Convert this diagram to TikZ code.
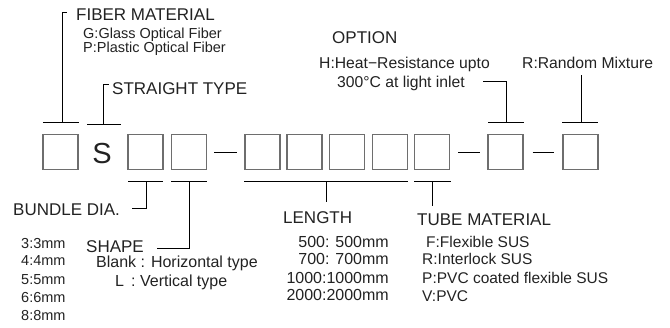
\documentclass[tikz,border=0pt]{standalone}
\usepackage{fontspec}
\setmainfont{Liberation Sans}
\usetikzlibrary{calc}
\definecolor{txt}{HTML}{222222}
\definecolor{boxc}{HTML}{6E6E6E}
\begin{document}
\begin{tikzpicture}[x=1pt,y=-1pt,
  box/.style={draw=boxc,line width=1.2pt,minimum width=35pt,minimum height=35pt,inner sep=0pt},
  brk/.style={draw=black,line width=0.9pt},
  lbl/.style={anchor=base west,inner sep=0pt,text=txt,font=\fontsize{17}{20}\selectfont},
  lst/.style={anchor=base west,inner sep=0pt,text=txt},
  lstr/.style={anchor=base east,inner sep=0pt,text=txt}]
\useasboundingbox (0,0) rectangle (670,327);
% boxes
\node[box] (b1) at (60.5,152) {};
\node[inner sep=0pt,text=txt,font=\fontsize{29}{30}\selectfont,anchor=base] (s) at (102,163) {S};
\node[box] (b2) at (145.5,152) {};
\node[box] (b3) at (189,152) {};
\node[box] (b4) at (262.5,152) {};
\node[box] (b5) at (304.5,152) {};
\node[box] (b6) at (347,152) {};
\node[box] (b7) at (390,152) {};
\node[box] (b8) at (432,152) {};
\node[box] (b9) at (505.5,152) {};
\node[box] (b10) at (580.5,152) {};
% dashes
\draw[brk] ($(b3.east)+(7,0)$) -- ($(b4.west)+(-7,0)$);
\draw[brk] ($(b8.east)+(8,0)$) -- ($(b9.west)+(-7,0)$);
\draw[brk] ($(b9.east)+(9,0)$) -- ($(b10.west)+(-8,0)$);
% labels
\node[lbl] (fib) at (76,20.5) {FIBER MATERIAL};
\node[lst,font=\fontsize{14.5}{16}\selectfont] (fibg) at (83,38.5) {G:Glass Optical Fiber};
\node[lst,font=\fontsize{14.5}{16}\selectfont] (fibp) at (83,52) {P:Plastic Optical Fiber};
\node[lbl] (str) at (112,94) {STRAIGHT TYPE};
\node[lbl] (opt) at (332,43) {OPTION};
\node[lst,font=\fontsize{15.7}{18}\selectfont] (opth) at (319,68) {H:Heat−Resistance upto};
\node[lst,font=\fontsize{15.7}{18}\selectfont] (optc) at (337,87) {300°C at light inlet};
\node[lst,font=\fontsize{15.7}{18}\selectfont] (rnd) at (522,68) {R:Random Mixture};
\node[lbl] (bun) at (13,215) {BUNDLE DIA.};
\foreach \t/\y [count=\i] in {3:3mm/248,4:4mm/265.5,5:5mm/284,6:6mm/302,8:8mm/320}
  \node[lst,font=\fontsize{14.5}{17}\selectfont] (bun\i) at (21,\y) {\t};
\node[lbl] (shp) at (86,252.5) {SHAPE};
\node[lst,font=\fontsize{16}{18}\selectfont] (shp1) at (96,267) {Blank : Horizontal type};
\node[lst,font=\fontsize{16}{18}\selectfont] (shp2) at (115,286.5) {L \,: Vertical type};
\node[lbl] (len) at (283,223) {LENGTH};
\foreach \t/\y [count=\i] in {500: 500mm/247,700: 700mm/264.5,1000:1000mm/283,2000:2000mm/300}
  \node[lstr,font=\fontsize{16}{18}\selectfont] (len\i) at (389,\y) {\t};
\node[lbl] (tub) at (417,225) {TUBE MATERIAL};
\node[lst,font=\fontsize{15.5}{18}\selectfont] (tub1) at (426,247) {F:Flexible SUS};
\node[lst,font=\fontsize{15.5}{18}\selectfont] (tub2) at (422,264.5) {R:Interlock SUS};
\node[lst,font=\fontsize{15.5}{18}\selectfont] (tub3) at (422,283) {P:PVC coated flexible SUS};
\node[lst,font=\fontsize{15.5}{18}\selectfont] (tub4) at (422,301) {V:PVC};
% bracket coordinates
\coordinate (c1) at ($(b1.north)+(1.5,-11.5)$);
\coordinate (c2) at ($(s.center)+(1,-29)$);
\coordinate (c9) at ($(b9.north)+(0.5,-11.5)$);
\coordinate (c10) at ($(b10.north)+(0.5,-11.5)$);
\coordinate (d2) at ($(b2.south)+(0.5,11.5)$);
\coordinate (d3) at ($(b3.south)+(0,11.5)$);
\coordinate (d45) at ($(b4.south)!0.5!(b6.south)+(-20,11.5)$);
\coordinate (d8) at ($(b8.south)+(0,11.5)$);
\coordinate (e1) at (67,12);
\coordinate (e2) at (109,84);
\coordinate (e9) at (483,81);
\coordinate (e10) at (581,75);
\coordinate (f2) at (132,208);
\coordinate (f3) at (157,248);
\coordinate (f45) at (326,202);
\coordinate (f8) at (432,206);
% top brackets
\draw[brk] ($(b1.north west)+(0.5,-11.5)$) -- ($(b1.north east)+(0,-11.5)$);
\draw[brk] (c1) |- (e1);
\draw[brk] ($(c2)+(-16,0)$) -- ($(c2)+(18,0)$);
\draw[brk] (c2) |- (e2);
\draw[brk] ($(b9.north west)+(1,-11.5)$) -- ($(b9.north east)+(0,-11.5)$);
\draw[brk] (c9) |- (e9);
\draw[brk] ($(b10.north west)+(0,-11.5)$) -- ($(b10.north east)+(-1,-11.5)$);
\draw[brk] (c10) -- (e10);
% bottom brackets
\draw[brk] ($(b2.south west)+(1,11.5)$) -- ($(b2.south east)+(-1,11.5)$);
\draw[brk] (d2) |- (f2);
\draw[brk] ($(b3.south west)+(0.5,11.5)$) -- ($(b3.south east)+(-0.5,11.5)$);
\draw[brk] (d3) |- (f3);
\draw[brk] ($(b4.south west)+(0,11.5)$) -- ($(b7.south east)+(-0.5,11.5)$);
\draw[brk] (f45 |- d45) -- (f45);
\draw[brk] ($(b8.south west)+(0.5,11.5)$) -- ($(b8.south east)+(0.5,11.5)$);
\draw[brk] (d8) -- (f8);
\end{tikzpicture}
\end{document}
